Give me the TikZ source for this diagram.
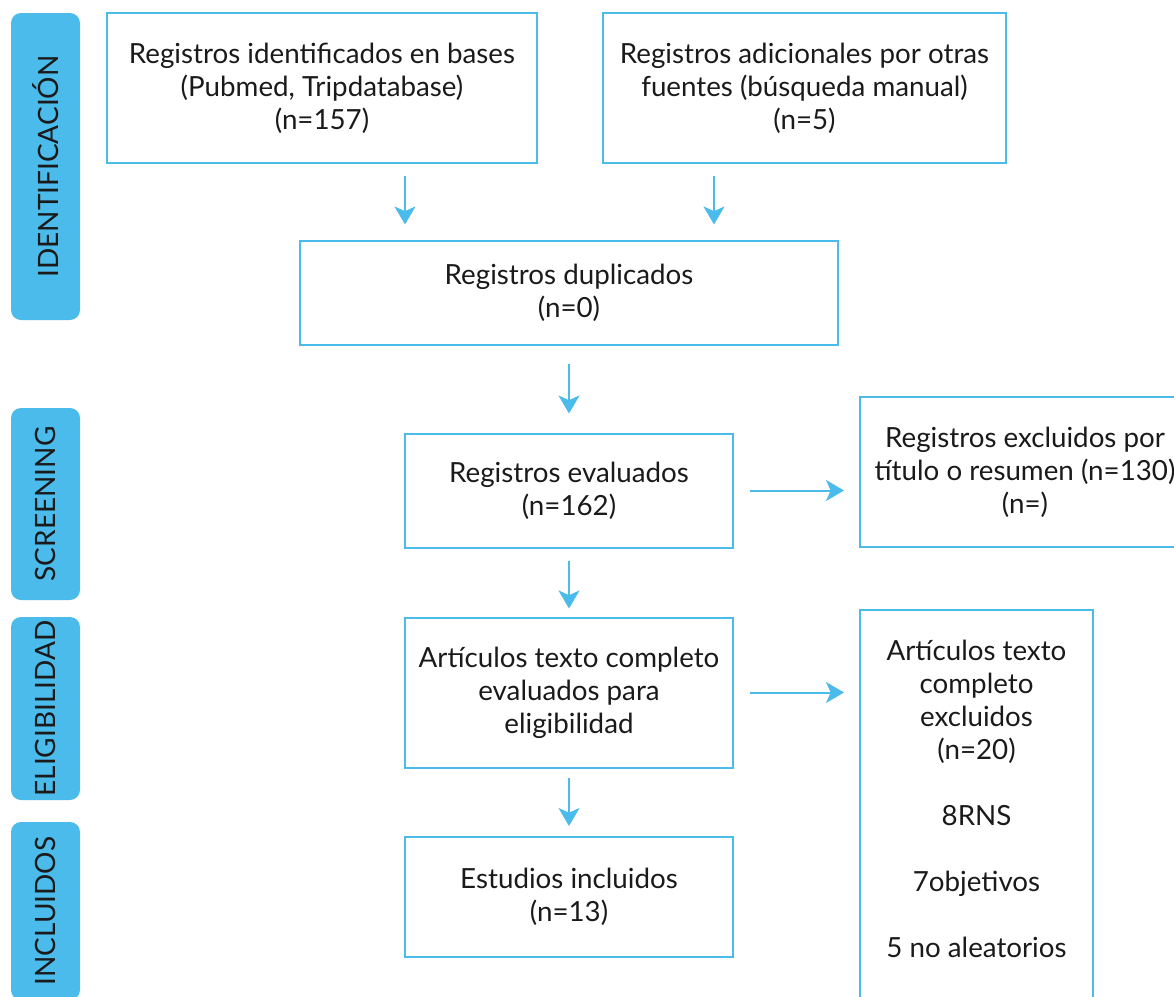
\documentclass[tikz,border=0pt]{standalone}
\usepackage{fontspec}
\setmainfont{Lato}
\usetikzlibrary{arrows.meta,calc}
\definecolor{prisma}{HTML}{4BBBEB}
\definecolor{ink}{HTML}{1A1A1A}
\begin{document}
\begin{tikzpicture}[x=0.75pt,y=-0.75pt,
  box/.style={draw=prisma,line width=1.5pt,rectangle,inner sep=0pt,align=center,text=ink,
    font=\fontsize{20.8}{24.75}\selectfont},
  txt/.style={inner sep=0pt,align=center,text=ink,font=\fontsize{20.8}{24.75}\selectfont},
  phase/.style={fill=prisma,draw=none,rounded corners=7.5pt,rotate=90,inner sep=0pt,text=ink,
    minimum height=51.75pt,font=\fontsize{21}{25}\selectfont},
  arr/.style={draw=prisma,line width=1.5pt,-{Stealth[length=13.5pt,width=15.75pt,inset=3.5pt]}}]
\useasboundingbox (0,0) rectangle (1174,996);
\clip (0,0) rectangle (1174,996);
% phase labels
\node[phase,minimum width=230.25pt] (p1) at (45.5,166.5) {IDENTIFICACIÓN};
\node[phase,minimum width=144pt] (p2) at (45.5,504) {SCREENING};
\node[phase,minimum width=137.25pt] (p3) at (45.5,708.5) {ELIGIBILIDAD};
\node[phase,minimum width=133.5pt] (p4) at (45.5,911) {INCLUIDOS};
% boxes
\node[box,minimum width=322.5pt,minimum height=112.5pt] (A) at (322,88)
  {Registros identificados en bases\\(Pubmed, Tripdatabase)\\(n=157)};
\node[box,minimum width=302.25pt,minimum height=112.5pt] (B) at (804.5,88)
  {Registros adicionales por otras\\fuentes (búsqueda manual)\\(n=5)};
\node[box,minimum width=403.5pt,minimum height=78pt] (C) at (569,292.5)
  {Registros duplicados\\(n=0)};
\node[box,minimum width=246pt,minimum height=85.5pt] (D) at (569,490.5)
  {Registros evaluados\\(n=162)};
\node[box,minimum width=247.5pt,minimum height=112.5pt] (E) at (1025,472)
  {Registros excluidos por\\título o resumen (n=130)\\(n=)};
\node[box,minimum width=246pt,minimum height=112.5pt] (F) at (569,692.5)
  {Artículos texto completo\\evaluados para\\eligibilidad};
\node[box,minimum width=246pt,minimum height=90pt] (H) at (569,897)
  {Estudios incluidos\\(n=13)};
\node[box,minimum width=174.75pt,minimum height=292.5pt] (G) at (976.5,805) {};
\node[txt] (Gt) at (976.5,799)
  {Artículos texto\\completo\\excluidos\\(n=20)\\[24.75pt]8RNS\\[24.75pt]7objetivos\\[24.75pt]5 no aleatorios};
% arrows
\coordinate (xa) at (405,0);
\coordinate (xb) at (714,0);
\draw[arr,shorten <=9pt,shorten >=11.25pt] (A.south -| xa) -- (C.north -| xa);
\draw[arr,shorten <=9pt,shorten >=11.25pt] (B.south -| xb) -- (C.north -| xb);
\draw[arr,shorten <=13.5pt,shorten >=14.25pt] (C) -- (D);
\draw[arr,shorten <=9pt,shorten >=6pt] (D) -- (F);
\draw[arr,shorten <=6.75pt,shorten >=7.5pt] (F) -- (H);
\draw[arr,shorten <=12pt,shorten >=11.25pt] (D.east) -- (D.east -| E.west);
\draw[arr,shorten <=12pt,shorten >=11.25pt] (F.east) -- (F.east -| G.west);
\end{tikzpicture}
\end{document}
